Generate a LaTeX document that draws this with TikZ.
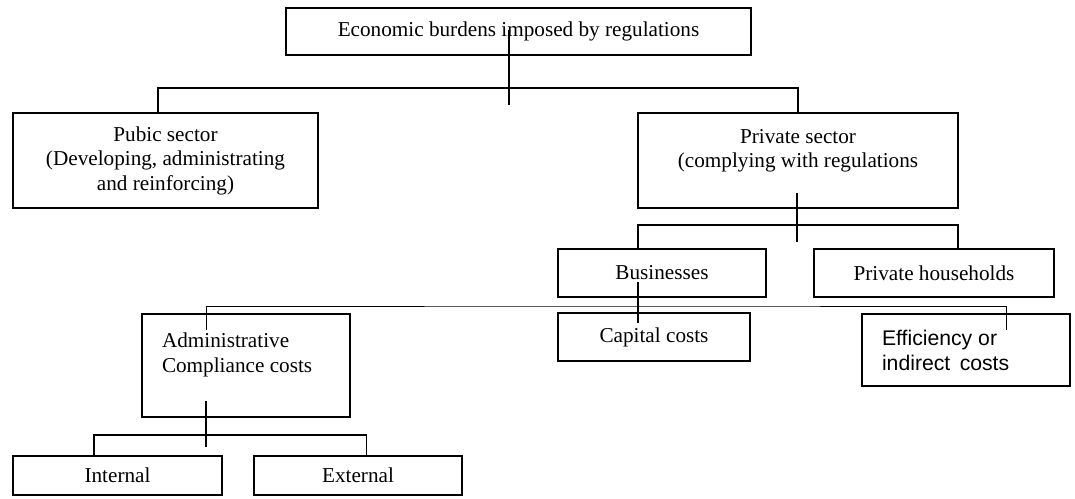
\documentclass[tikz,border=0pt]{standalone}
\usepackage{fontspec}
\setmainfont{Liberation Serif}
\setsansfont{Liberation Sans}
\begin{document}
\begin{tikzpicture}[x=1pt, y=-1pt,
    box/.style={draw, line width=1.5pt, inner sep=0pt, align=center,
        font=\fontsize{21.2}{24.5}\selectfont},
    leftbox/.style={box, align=flush left, text width=168pt, inner xsep=20pt,
        font=\fontsize{21.2}{25}\selectfont},
    link/.style={line width=1.2pt},
    thinlink/.style={line width=0.9pt}]
    \useasboundingbox (0,0) rectangle (1075,498);

    \node[box, minimum width=465pt, minimum height=47pt] (burdens) at (518.5,31.5)
        {Economic burdens imposed by regulations};
    \node[box, minimum width=305pt, minimum height=95pt] (pubic) at (165.5,160.5)
        {Pubic sector\\(Developing, administrating\\and reinforcing)};
    \node[box, minimum width=320pt, minimum height=95pt] (private) at (798,160.5)
        {Private sector\\(complying with regulations\\\mbox{}};
    \node[box, minimum width=208pt, minimum height=48pt] (business) at (662,273) {Businesses};
    \node[box, minimum width=240pt, minimum height=48pt] (house) at (934,273) {Private households};
    \node[leftbox, minimum height=103pt] (admin) at (246,365.5)
        {Administrative\\Compliance costs\\\mbox{}};
    \node[box, minimum width=192pt, minimum height=48pt] (capital) at (654,337) {Capital costs};
    \node[leftbox, minimum height=72pt, font=\sffamily\fontsize{21.2}{25}\selectfont] (indirect) at (966,350)
        {Efficiency or\\indirect\, costs};
    \node[box, minimum width=209pt, minimum height=39pt] (internal) at (117.5,475.5) {Internal};
    \node[box, minimum width=208pt, minimum height=39pt] (external) at (358,475.5) {External};

    % stubs running through the boxes
    \foreach \n/\x/\a/\b in {burdens/509/30/105, private/797/193/242, business/638/282/323, admin/206/401/447} {
        \coordinate (\n-in) at (\x,\a);
        \coordinate (\n-out) at (\x,\b);
        \draw[link] (\n-in) -- (\n-out);
    }
    \coordinate (hub1) at (509,88);
    \coordinate (hub2) at (797,225);
    \coordinate (hub3) at (638,306);
    \coordinate (hub4) at (206,435);
    \coordinate (admin-top) at (206,330);
    \coordinate (indirect-top) at (1006,330);

    \draw[link] ([xshift=-7.5pt]pubic.north) |- (hub1) -| (private.north);
    \draw[link] ([xshift=-24pt]business.north) |- (hub2) -| ([xshift=24pt]house.north);
    \draw[thinlink] (admin-top) |- (hub3) -| (indirect-top);
    \draw[link] ([xshift=-23.5pt]internal.north) |- (hub4) -| ([xshift=8.5pt]external.north);
\end{tikzpicture}
\end{document}
